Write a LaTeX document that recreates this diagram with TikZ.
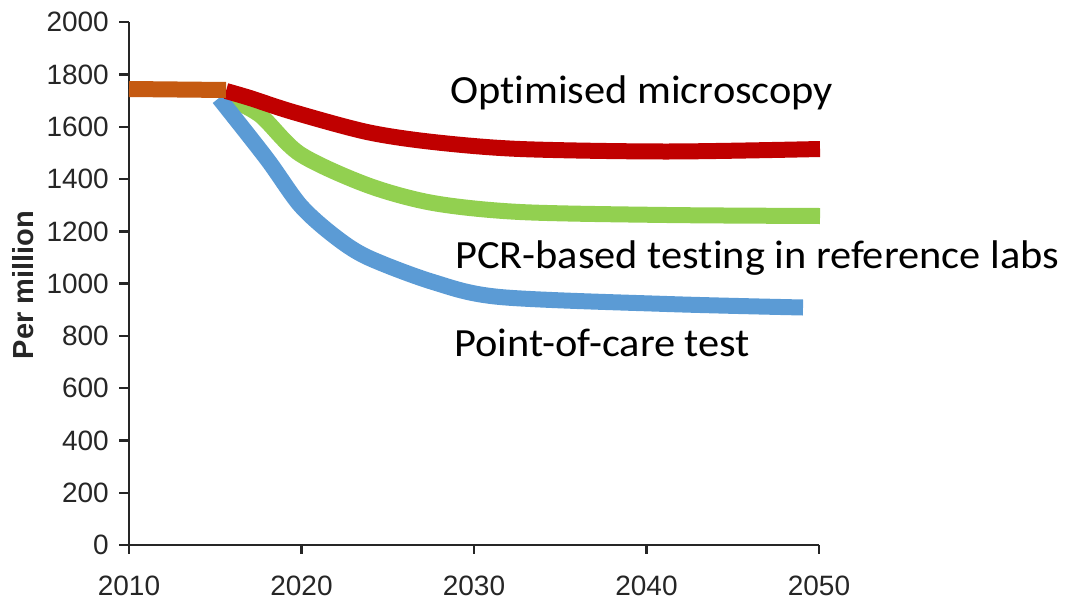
\documentclass[tikz,border=0pt]{standalone}
\usepackage{fontspec}
\setmainfont{Liberation Sans}
\newfontfamily\calib[Ligatures={NoCommon}]{Carlito}
\definecolor{axisgray}{HTML}{262626}
\definecolor{serorange}{HTML}{C55A11}
\definecolor{serred}{HTML}{C00000}
\definecolor{sergreen}{HTML}{92D050}
\definecolor{serblue}{HTML}{5B9BD5}
\newcommand{\wideit}[1]{\scalebox{1.06}[1]{#1}}
\begin{document}
\begin{tikzpicture}[x=1pt,y=-1pt,
  axisline/.style={draw=axisgray,line width=2.4pt},
  ticklab/.style={inner sep=0pt,text=axisgray,font=\fontsize{28}{30}\selectfont},
  series/.style={line width=16pt,line join=round},
  curvelab/.style={inner sep=0pt,anchor=base west,font=\calib\fontsize{40}{44}\selectfont}]
\useasboundingbox (0,0) rectangle (1066,600);
% axes
\coordinate (Ytop) at (129,22);
\coordinate (O) at (129,545);
\coordinate (Xend) at (819,545);
\draw[axisline] (Ytop) -- (O) -- (Xend);
\foreach \v in {0,200,...,2000}{
  \coordinate (yt\v) at (129,{545-\v*0.26135});
  \draw[axisline] (yt\v) -- ++(-10,0);
  \node[ticklab,anchor=east] (ylab\v) at (109,{545-\v*0.26135}) {\v};
}
\foreach \yr in {2010,2020,2030,2040,2050}{
  \coordinate (xt\yr) at ({129+(\yr-2010)*17.25},545);
  \draw[axisline] (xt\yr) -- ++(0,9);
  \node[ticklab] (xlab\yr) at ({129+(\yr-2010)*17.25},586) {\yr};
}
\node[rotate=90,anchor=base,inner sep=0pt,text=axisgray,font=\bfseries\fontsize{29}{30}\selectfont] (ylabel) at (34,285) {Per million};
% series
\draw[series,sergreen] plot[smooth,tension=0.5] coordinates {(226,97) (260,115) (300,154) (367,185) (433,203) (520,212) (667,215) (820,216)};
\draw[series,serblue] plot[smooth,tension=0.5] coordinates {(219,98) (267,159) (300,205) (333,235) (367,257) (433,282) (500,297) (667,304) (803,307.5)};
\draw[series,serred] plot[smooth,tension=0.5] coordinates {(226,91) (250,98) (293,112) (367,132) (433,142) (520,149) (667,151.5) (820,149)};
\draw[series,serorange] (129,89) -- (226,90);
% labels
\node[curvelab] (lab1) at (450,103) {\wideit{Optimised microscopy}};
\node[curvelab] (lab2) at (455,268) {\wideit{PCR-based testing in reference labs}};
\node[curvelab] (lab3) at (454,356) {\wideit{Point-of-care test}};
\end{tikzpicture}
\end{document}
